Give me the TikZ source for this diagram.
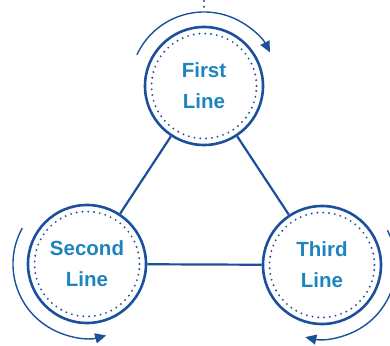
\documentclass[tikz,border=0pt]{standalone}
\usepackage{fontspec}
\setmainfont{Liberation Sans}
\usepackage{tikz}
\usetikzlibrary{arrows.meta,calc}

\definecolor{ringblue}{HTML}{1C4F9C}
\definecolor{textblue}{HTML}{1E84BF}

\begin{document}
\begin{tikzpicture}[x=1pt,y=1pt,
  ringnode/.style={circle,draw=ringblue,line width=2.6pt,minimum size=118pt,inner sep=0pt,
    align=center,text=textblue,font=\fontsize{20.5}{31}\selectfont\bfseries},
  dotring/.style={ringblue,line width=2.1pt,line cap=round,dash pattern=on 0pt off 5.8pt},
  link/.style={ringblue,line width=2.2pt},
  loopline/.style={ringblue,line width=1.4pt,-{Triangle[length=11pt,width=10pt]}}]
\useasboundingbox (0,0) rectangle (390,345);
\node[ringnode] (first) at (204,259) {First\\Line};
\node[ringnode] (second) at (87,81) {Second\\Line};
\node[ringnode] (third) at (322,80) {Third\\Line};
\foreach \n in {first,second,third}
  \draw[dotring] (\n) circle (52.5pt);
\draw[link] (first) -- (second);
\draw[link] (first) -- (third);
\draw[link] (second) -- (third);
\draw[dotring] (204,344) -- (204,333);
\draw[loopline] ($(first)+(155:74)$) arc (155:27:74);
\draw[loopline] ($(second)+(151:74)$) arc (151:285:74);
\draw[loopline] ($(third)+(28:74)$) arc (28:-103:74);
\end{tikzpicture}
\end{document}
